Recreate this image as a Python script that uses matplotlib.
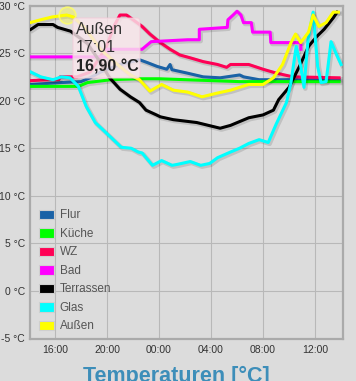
import matplotlib
matplotlib.use("Agg")
import matplotlib.pyplot as plt
import matplotlib.patheffects as pe
from matplotlib.patches import Patch, FancyBboxPatch

plt.rcParams['font.family'] = ['Liberation Sans', 'DejaVu Sans']

# times in hours since midnight of day 1 (values > 24 are next day)
flur_t = [14.15, 16.5, 18.0, 18.7, 19.5, 21.0, 22.5, 23.1, 23.85, 24.6, 24.85, 25.0, 26.15, 27.4, 28.7, 29.2, 30.2, 30.5, 31.7, 37.85]
flur_v = [21.7, 21.9, 22.0, 22.4, 23.0, 23.8, 24.3, 24.0, 23.6, 23.3, 23.8, 23.25, 22.9, 22.5, 22.4, 22.5, 22.7, 22.5, 22.2, 22.2]

kueche_t = [14.15, 17.8, 18.5, 19.1, 20.3, 22.4, 24.0, 30.2, 37.85]
kueche_v = [21.5, 21.5, 21.9, 22.0, 22.2, 22.3, 22.3, 22.0, 22.0]

wz_t = [14.1, 15.6, 16.3, 16.4, 17.7, 18.7, 19.9, 20.6, 21.0, 21.5, 22.0, 22.7, 23.3, 24.1, 24.85, 25.6, 26.4, 27.4, 28.5, 29.2, 29.5, 30.9, 32.0, 33.0, 34.3, 37.85]
wz_v = [22.1, 22.2, 22.2, 22.5, 22.5, 23.0, 25.5, 28.0, 29.0, 29.0, 28.5, 27.8, 27.0, 26.1, 25.4, 24.8, 24.5, 24.1, 23.8, 23.5, 23.8, 23.8, 23.3, 22.9, 22.5, 22.4]

bad_t = [14.15, 20.0, 20.0, 22.7, 23.4, 26.2, 27.1, 27.1, 29.25, 29.3, 29.7, 30.0, 30.3, 30.5, 31.1, 31.2, 32.55, 32.6, 34.9, 34.92]
bad_v = [24.6, 24.6, 25.4, 25.4, 26.2, 26.4, 26.4, 27.5, 27.7, 28.5, 29.0, 29.4, 29.0, 28.2, 28.2, 27.2, 27.2, 26.1, 26.1, 25.4]

terr_t = [14.15, 14.7, 15.85, 16.2, 17.2, 18.0, 18.5, 19.5, 20.2, 21.0, 21.8, 22.5, 23.0, 23.8, 24.1, 25.1, 26.9, 28.7, 29.5, 30.2, 30.9, 32.0, 32.8, 33.2, 34.0, 34.8, 35.5, 36.1, 36.7, 37.4, 37.7]
terr_v = [27.5, 28.0, 28.0, 27.7, 27.3, 26.5, 26.0, 24.0, 22.4, 21.2, 20.4, 19.8, 19.0, 18.5, 18.3, 18.0, 17.7, 17.1, 17.4, 17.8, 18.2, 18.5, 19.0, 20.1, 21.4, 23.6, 25.7, 26.7, 27.5, 28.7, 29.3]

glas_t = [14.15, 14.9, 15.85, 16.5, 17.15, 17.8, 18.4, 19.1, 20.1, 21.1, 21.85, 22.4, 22.7, 23.5, 24.2, 25.0, 25.4, 26.4, 27.2, 27.9, 28.5, 29.5, 30.2, 30.9, 31.7, 32.4, 33.0, 33.8, 34.15, 34.55, 34.9, 35.15, 35.46, 35.85, 36.2, 36.46, 36.85, 37.23, 37.6, 38.0]
glas_v = [23.0, 22.5, 22.2, 22.5, 22.4, 21.5, 19.4, 17.7, 16.4, 15.1, 15.0, 14.6, 14.5, 13.2, 13.7, 13.2, 13.3, 13.6, 13.2, 13.4, 14.0, 14.6, 15.0, 15.5, 15.9, 15.6, 17.5, 19.8, 21.9, 25.7, 23.6, 21.4, 26.4, 29.3, 23.6, 21.9, 22.0, 26.2, 25.0, 23.8]

aussen_t = [14.08, 14.9, 15.8, 16.9, 17.4, 18.2, 19.5, 20.8, 21.8, 22.5, 23.3, 24.2, 25.1, 26.2, 27.3, 28.5, 29.5, 30.2, 30.9, 32.0, 32.8, 33.5, 34.15, 34.5, 34.9, 35.5, 35.85, 36.3, 36.85, 37.4, 37.8]
aussen_v = [28.2, 28.5, 28.8, 29.0, 28.8, 27.8, 25.4, 23.8, 22.7, 22.2, 21.0, 21.7, 21.1, 20.9, 20.4, 20.8, 21.1, 21.4, 21.7, 21.7, 22.4, 23.8, 26.1, 27.0, 26.1, 27.2, 29.0, 27.8, 28.2, 29.3, 29.3]

series_names = ["Flur", "Küche", "WZ", "Bad", "Terrassen", "Glas", "Außen"]
series_colors = ["#1a62a6", "#00ff00", "#ff0055", "#ff00ff", "#000000", "#00ffff", "#ffff00"]

y_ticks = [-5, 0, 5, 10, 15, 20, 25, 30]
x_ticks = [16, 20, 24, 28, 32, 36]
x_tick_labels = ["16:00", "20:00", "00:00", "04:00", "08:00", "12:00"]
title = "Temperaturen [°C]"
tooltip_lines = ["Außen", "17:01", "16,90 °C"]

bg = "#dcdcdc"
fig = plt.figure(figsize=(3.56, 3.81), dpi=100, facecolor=bg)
ax = fig.add_axes([30/356, 1-338.5/381, 313/356, 333/381])
ax.set_facecolor(bg)

data = [(flur_t, flur_v), (kueche_t, kueche_v), (wz_t, wz_v), (bad_t, bad_v),
        (terr_t, terr_v), (glas_t, glas_v), (aussen_t, aussen_v)]
shadow = [pe.SimpleLineShadow(offset=(1, -1), shadow_color='black', alpha=0.12, linewidth=3.2), pe.Normal()]
for (t, v), name, col in zip(data, series_names, series_colors):
    ax.plot(t, v, color=col, lw=2.2, label=name, solid_joinstyle='round', path_effects=shadow, zorder=3)

# hover marker on Außen
ax.plot(aussen_t[3], aussen_v[3], 'o', ms=12, mfc=(1, 1, 0, 0.3), mec=(1, 1, 0.4, 0.8), mew=1.2, zorder=5)

ax.set_xlim(14.08, 38.15)
ax.set_ylim(-5, 30)
ax.set_yticks(y_ticks)
ax.set_yticklabels([f"{v} °C" for v in y_ticks])
ax.set_xticks(x_ticks)
ax.set_xticklabels(x_tick_labels)
ax.tick_params(axis='both', length=0, labelsize=7.5, colors='#333333')
ax.tick_params(axis='y', pad=3.5)
ax.tick_params(axis='x', pad=5)
ax.grid(True, color='#b8b8b8', lw=0.8)
ax.set_axisbelow(True)
for s in ax.spines.values():
    s.set_color('#aaaaaa')
    s.set_linewidth(1.6)

handles = [Patch(facecolor=c, edgecolor='#cfcfcf', lw=0.8, label=n) for n, c in zip(series_names, series_colors)]
leg = ax.legend(handles=handles, loc='upper left', bbox_to_anchor=(39/356, 1-209.5/381),
                bbox_transform=fig.transFigure, frameon=False, fontsize=8.5,
                handlelength=1.3, handleheight=0.85, handletextpad=0.45,
                labelspacing=0.55, borderpad=0, borderaxespad=0)
for txt in leg.get_texts():
    txt.set_color('#555555')

# tooltip
box = FancyBboxPatch((73/356, 1-78/381), 67/356, 60/381, transform=fig.transFigure,
                     boxstyle="round,pad=0,rounding_size=0.008",
                     facecolor=(0.98, 0.90, 0.92, 0.82), edgecolor=(0.95, 0.8, 0.85, 0.8), lw=0.8, zorder=10)
fig.patches.append(box)
fig.text(76/356, 1-30/381, tooltip_lines[0], fontsize=11.5, color='#333333', va='center', ha='left', zorder=11)
fig.text(76/356, 1-48/381, tooltip_lines[1], fontsize=11.5, color='#333333', va='center', ha='left', zorder=11)
fig.text(76/356, 1-67/381, tooltip_lines[2], fontsize=11.5, color='#222222', va='center', ha='left', weight='bold', zorder=11)

fig.text(176/356, 1-382/381, title, fontsize=15.5, color='#3d8eb9', ha='center', va='baseline', weight='bold')

fig.savefig("out.png", dpi=100, facecolor=bg)
